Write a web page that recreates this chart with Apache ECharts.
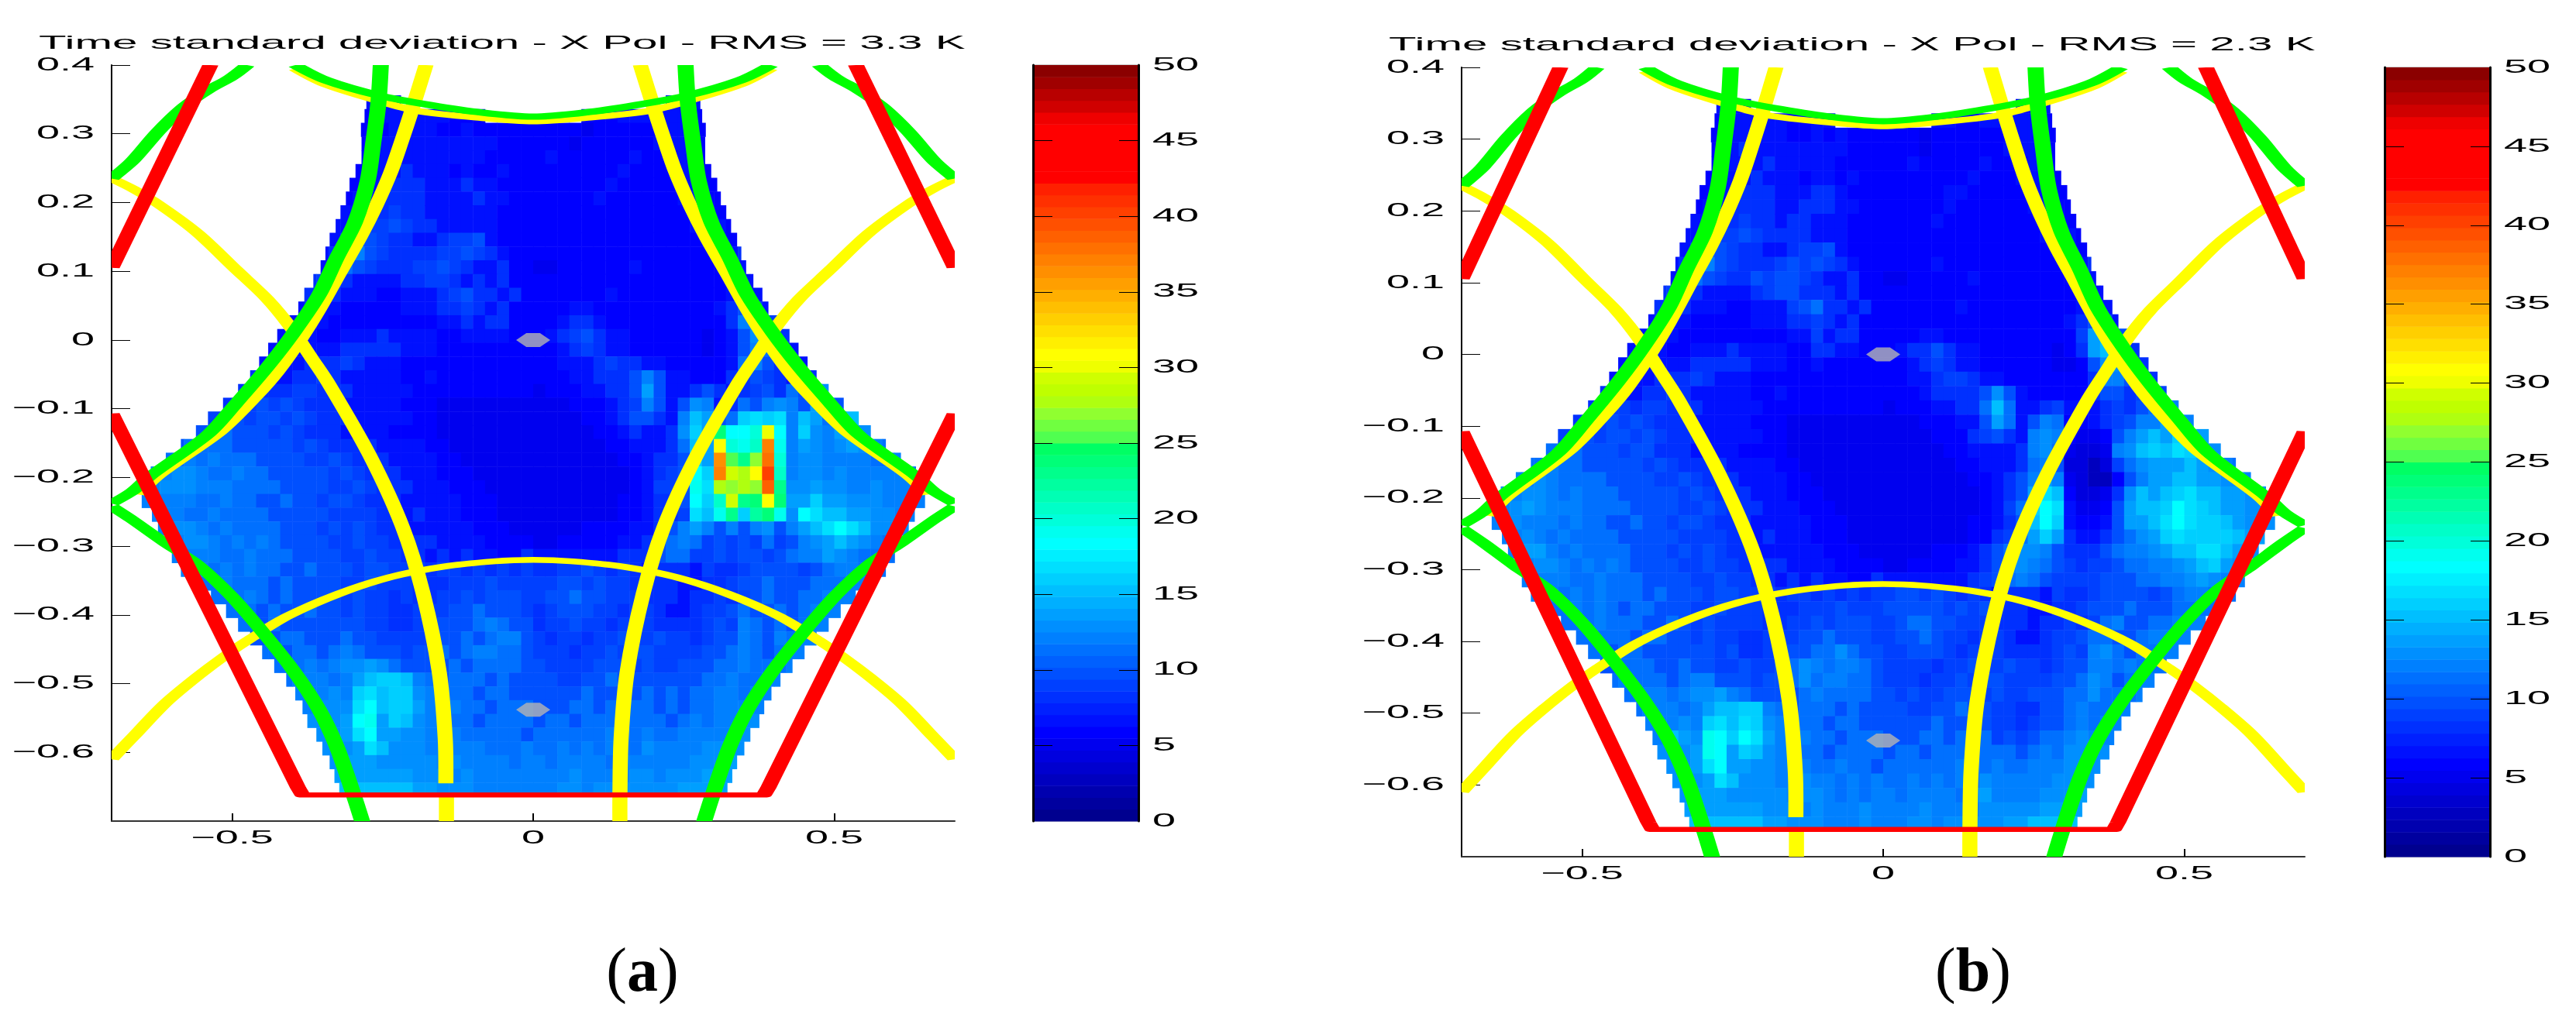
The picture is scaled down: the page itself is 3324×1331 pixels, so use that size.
<!DOCTYPE html>
<html>
<head>
<meta charset="utf-8">
<title>Time standard deviation</title>
<script src="https://cdn.jsdelivr.net/npm/echarts@6/dist/echarts.min.js"></script>
<style>
  html, body { margin: 0; padding: 0; background: #fff; }
  #chart { width: 3324px; height: 1331px; }
</style>
</head>
<body>
<div id="chart"></div>
<script>
var titleA = "Time standard deviation - X Pol - RMS = 3.3 K";
var titleB = "Time standard deviation - X Pol - RMS = 2.3 K";

var xTicks = [-0.5, 0, 0.5];
var xTickLabels = ["\u22120.5", "0", "0.5"];
var yTicks = [0.4, 0.3, 0.2, 0.1, 0, -0.1, -0.2, -0.3, -0.4, -0.5, -0.6];
var yTickLabels = ["0.4", "0.3", "0.2", "0.1", "0", "\u22120.1", "\u22120.2", "\u22120.3", "\u22120.4", "\u22120.5", "\u22120.6"];
var barTicks = [0, 5, 10, 15, 20, 25, 30, 35, 40, 45, 50];

// one character per cell, the value in K: 0-9, a=10 ... z=35, A=36 ... F=41
var levelChars = "0123456789abcdefghijklmnopqrstuvwxyzABCDEF";

// rows from y=0.346 down in steps of 0.02, "left of x=0|right of x=0", cells 0.02 wide
var rowsA = [
  "777...........|...........777",
  "6777777666....|....6667777776",
  "66777766766666|66665666666776",
  "667777777777666|666566666677766",
  "667777777776666|676666667666776",
  "667787776766766|666666676666776",
  "677888777877666|666666766666776",
  "6778888777787766|6666676666667766",
  "7788988777777666|6666666666666776",
  "77899a98877777666|66666666666667776",
  "78aa98877899a7666|66666666666666776",
  "78aca9888899a98766|666666666666666778",
  "79ba988899a9877866|556666667666666677",
  "8998777788998787866|6666666666666666677",
  "8887776677789a88786|6666667666666666787",
  "78776666677788987866|66677666666666678a97",
  "77766666666677878866|66788766666666668cd9",
  "777667778777766777766|6789a877666666567adc8",
  "7777778888877766666666|66789877666666567acb97",
  "77778889877766666666666|66777898877666667bca887",
  "887788987777766766666666|66677888aca7766688a98778",
  "8888899888777776666666666|56667788aea778a8789a8babd",
  "899a9a98887777766655555555|555666789ca7adc78bacdcaeca",
  "99a9aa9a9888777776655555555|55556678aa87cfeabghghcfeb9f",
  "aaabbaaa9a98887777666655555555|555556678778dgeoiikuicgdcefdb",
  "aabbbbaaaaa9a988887777665555555|555555667778bfevkjlBjcedcdedcb",
  "bbbcbcbbbaaaa99a9888777766555555|555555566788ageApnrCkcddccccbbcc",
  "cccddcbbcbbaaaaa9a988877766655555|555555556789aigBtsvElcddcdcccccbc",
  "cdddcccbbbbaaaa99a98887776665555|555555556799ajhsrsrDnddeddccdccc",
  "ccccbbcbbaabaa9aa988877777666555|555555566788aigltnovoeegeedddccc",
  "ccbbcbbbbaaaaa99998878777666555|5555555667889hfjngmojdihffeeddc",
  "cddcbcbbbbaaa9a9a98877777766655|55556666778acecacacdacefhihfddd",
  "cddcbcbcbaaaa99a99888877776666|5566666778abcb9a9a9b9acdefedcb",
  "cccbbcbbbaaaa99a9988787877668|7777777888abb99a9aa9abccedcbb",
  "cbcbcbbaabaaa9aa999899898989|8899a9898788879889aaaa9abccb",
  "bcbbbabaaaa99a999888999a999|99aa9a99888877889aabaaabbbc",
  "bbcbabaaaa9a99898899a9aaa9|9aabaa999888788989abaabbcc",
  "bbabaabaa9a9988999aabaaa9|89aaa99899877899abaababcc",
  "babaaaaaaa998899aaabcbaa|899a99899988889a9cbababc",
  "abbaaabaa99999aababcca|9899899a99a9989aacbacbc",
  "bbabbabcbaaa9aababccbba|999899a9aa9999aabcbabcc",
  "bbbcbcddedbaaaababbbba|a9999aaa9a99aaabbcbbbc",
  "bcccbcefggfcbabbbabaa|aa99aabaaaaaaabbcbbcc",
  "cccdcghfggdcbbbabbaa|aaaabaababababbccbcc",
  "cdddhifggecbcbbabbb|aaabbababbababbcccc",
  "ddeijegfdccbbabbbb|abbabbbabbbabcbccd",
  "ddehieeddcccbbbbba|bbbbbbcbbcbbcccccd",
  "ddehfdddcccccbbbc|bbcbcbcbbdccccddd",
  "deeedddddcdccccbc|cbccccbccccccddde",
  "eeeeeedddcdccccc|cccdccccddcdddee",
  "ffffffeedddccccc|ccddcdddddddeeee"
];

var rowsB = [
  "776...........|...........677",
  "6777776677....|....7766777776",
  "67777766767666|66656666666776",
  "667877777777666|666566666677776",
  "667778777776666|667666667666776",
  "677787776776766|666666676667776",
  "677888777887666|666667766666776",
  "6778888778887766|6666676666667766",
  "7788988788777666|6666766666666776",
  "77899a98888777666|66666666666667776",
  "78aa98877899a7666|66666666666666776",
  "78aca98889a9a98766|666676666666666778",
  "79ba988a9aa9877866|556666676666666677",
  "8998777789aa8887866|6666666666666666677",
  "888777667779ab88786|6666667666666666787",
  "78776666677788987866|66666666666666678a97",
  "77766666666677978866|66677666666666669efa",
  "777667778777766887766|6788a877666666568efc8",
  "7777778888877766766666|66789877666666556adda8",
  "77778889877766666666666|667789987766666668cca88",
  "887788987777766766666666|66678888ada7666668aa89a9",
  "8899899888777776666666666|56667788bfb7789777898abbc",
  "899a9a98887777766655555555|55566677aeb7acb66789accedc",
  "9aa9aa9a9888777776655555555|555566689a87cdc6556acefegfe",
  "aabbbaaa9aa8887777666655555555|555556677778cdb5445cdfgfhgedc",
  "abbcbbaaaaa9a988887777665555555|555555667778bca44349bdeeefedcb",
  "bccdcbbbbaaaa99a9888777766555555|55555556678acec54336aceeffeeddcc",
  "ddcddcbcbbbaaaaa9a988877766655555|55555555678aehf64458dfefghffeeddc",
  "cdedcccbbbbaaaa99a98887776665555|55555555679bgih7556aeffgihgfeedd",
  "cdcccbcbbaabaa9aa988877777666555|55555556678afig7667aeefhihggfedd",
  "cdcbcbbbbaaaaa99998878777666555|55555556689bege8778abdeghggggfe",
  "ceecbcbbbbaaa9a9a98877777766655|555566678abddca888abccdeffhhfed",
  "cddcbcbcbaaaa99a99888877776666|556666778acdcba9899abbccdefged",
  "cccbbcbbbaaaa99a9988787877668|777777789abcba9999aaabbccdedc",
  "cbcbcbbbabaaa9aa999899898989|9aa9a9898788879889aaaa9abccb",
  "bcbcbabbaaa99a999888999a999|aaaaa9a9a88877889aaabaaabbb",
  "bbcbbbaaba9a99998899a9aaa9|9abbaa999888788989bcaabbcc",
  "bbbbabbaa9a9988999aabaaa9|9aaba99899877899abbaabccc",
  "babbaaaaaa9a8899aabbdbaa|99aaa9899988889a9cdbabbc",
  "abbbaabaa99a99abdcbccba|9999899a99a9989aaccbcbb",
  "bcbbbabccaaa9aabdbccbba|999899a9aa9999aabdcabcc",
  "bbccbcddecbaaaabcbbbba|a9a99aaa9a99aaabbdbbbc",
  "bcccbceffggcbabbbabaa|aa99aabaa9988aabcbbcc",
  "cccdcghfhgdcbbbabbaa|aaaabaaba9989aabcbcc",
  "cfedjigihecbcbbabbb|aaabbabab9a9abbcdcc",
  "ddejiegfdccbbabbbb|abbabbbabbbabcbddd",
  "ddehieeddcccbbcbba|bbbbbbcbbcbbcccddd",
  "ddehfdddccdccbcbc|bbcbcbcbdcccccddd",
  "deeedddddcddcbcbc|cbccccbdeccccddde",
  "eeeeeedddcdcccdc|cccdccccdddddeee",
  "ffffffeedddcccdc|ccddcdddddeeffff"
];

// |x| where the field stops, one value per row
var fieldEdge = [0.277, 0.28, 0.286, 0.285, 0.285, 0.295, 0.305, 0.311, 0.32, 0.328, 0.338, 0.345, 0.353, 0.365, 0.38, 0.39, 0.405, 0.425, 0.44, 0.455, 0.47, 0.49, 0.515, 0.54, 0.56, 0.585, 0.61, 0.635, 0.65, 0.65, 0.633, 0.623, 0.61, 0.6, 0.585, 0.56, 0.535, 0.51, 0.49, 0.47, 0.45, 0.43, 0.41, 0.395, 0.383, 0.375, 0.36, 0.35, 0.338, 0.33, 0.322];

var greyX = [0, 0];
var greyY = [0, -0.538];

var yellowArcTop = [[-0.395, 0.395], [-0.344, 0.372], [-0.257, 0.348], [-0.19, 0.333], [-0.086, 0.323], [0, 0.318], [0.086, 0.323], [0.19, 0.333], [0.257, 0.348], [0.344, 0.372], [0.395, 0.395]];
var yellowInnerLeft = [[-0.178, 0.4], [-0.202, 0.333], [-0.219, 0.288], [-0.237, 0.243], [-0.262, 0.193], [-0.288, 0.148], [-0.322, 0.096], [-0.356, 0.043], [-0.386, 0.001], [-0.425, -0.047], [-0.463, -0.085], [-0.52, -0.134], [-0.623, -0.198], [-0.655, -0.225]];
var yellowInnerRight = [[0.178, 0.4], [0.202, 0.333], [0.219, 0.288], [0.237, 0.243], [0.262, 0.193], [0.288, 0.148], [0.322, 0.096], [0.356, 0.043], [0.386, 0.001], [0.425, -0.047], [0.463, -0.085], [0.52, -0.134], [0.623, -0.198], [0.655, -0.225]];
var yellowOuterLeft = [[-0.7, 0.235], [-0.665, 0.22], [-0.623, 0.198], [-0.558, 0.156], [-0.494, 0.103], [-0.442, 0.06], [-0.404, 0.02], [-0.369, -0.025], [-0.34, -0.063], [-0.272, -0.167], [-0.217, -0.272], [-0.183, -0.368], [-0.156, -0.483], [-0.146, -0.58], [-0.145, -0.645]];
var yellowStubLeft = [[-0.144, -0.664], [-0.144, -0.703]];
var yellowOuterRight = [[0.7, 0.235], [0.665, 0.22], [0.623, 0.198], [0.558, 0.156], [0.494, 0.103], [0.442, 0.06], [0.404, 0.02], [0.369, -0.025], [0.34, -0.063], [0.272, -0.167], [0.217, -0.272], [0.183, -0.368], [0.156, -0.483], [0.146, -0.58], [0.144, -0.665], [0.144, -0.703]];
var yellowArcLow = [[-0.7, -0.61], [-0.665, -0.578], [-0.61, -0.528], [-0.558, -0.49], [-0.511, -0.459], [-0.472, -0.436], [-0.408, -0.402], [-0.322, -0.369], [-0.237, -0.345], [-0.151, -0.33], [-0.064, -0.322], [0, -0.32], [0.064, -0.322], [0.151, -0.33], [0.237, -0.345], [0.322, -0.369], [0.408, -0.402], [0.472, -0.436], [0.511, -0.459], [0.558, -0.49], [0.61, -0.528], [0.665, -0.578], [0.7, -0.61]];

var greenArcTop = [[-0.395, 0.4], [-0.344, 0.378], [-0.257, 0.356], [-0.172, 0.342], [-0.086, 0.331], [0, 0.325], [0.086, 0.331], [0.172, 0.342], [0.257, 0.356], [0.344, 0.378], [0.395, 0.4]];
var greenInnerLeft = [[-0.253, 0.4], [-0.257, 0.345], [-0.266, 0.284], [-0.275, 0.231], [-0.296, 0.171], [-0.327, 0.118], [-0.356, 0.065], [-0.399, 0.009], [-0.442, -0.04], [-0.494, -0.093], [-0.541, -0.138], [-0.636, -0.198], [-0.665, -0.22], [-0.7, -0.238]];
var greenInnerRight = [[0.253, 0.4], [0.257, 0.345], [0.266, 0.284], [0.275, 0.231], [0.296, 0.171], [0.327, 0.118], [0.356, 0.065], [0.399, 0.009], [0.442, -0.04], [0.494, -0.093], [0.541, -0.138], [0.636, -0.198], [0.665, -0.22], [0.7, -0.238]];
var greenLowLeft = [[-0.7, -0.242], [-0.665, -0.262], [-0.61, -0.296], [-0.558, -0.326], [-0.502, -0.372], [-0.45, -0.424], [-0.399, -0.48], [-0.356, -0.537], [-0.327, -0.59], [-0.301, -0.654], [-0.283, -0.703]];
var greenLowRight = [[0.7, -0.242], [0.665, -0.262], [0.61, -0.296], [0.558, -0.326], [0.502, -0.372], [0.45, -0.424], [0.399, -0.48], [0.356, -0.537], [0.327, -0.59], [0.301, -0.654], [0.283, -0.703]];
var greenHighLeft = [[-0.7, 0.235], [-0.665, 0.261], [-0.623, 0.303], [-0.579, 0.34], [-0.541, 0.363], [-0.502, 0.382], [-0.475, 0.4]];
var greenHighRight = [[0.7, 0.235], [0.665, 0.261], [0.623, 0.303], [0.579, 0.34], [0.541, 0.363], [0.502, 0.382], [0.475, 0.4]];

var redHighLeft = [[-0.536, 0.4], [-0.7, 0.105]];
var redHighRight = [[0.536, 0.4], [0.7, 0.105]];
var redFrame = [[-0.7, -0.107], [-0.39, -0.652], [-0.383, -0.662], [0.383, -0.662], [0.39, -0.652], [0.7, -0.107]];

var jetColors = [
  "#00008f", "#00009f", "#0000af", "#0000bf", "#0000cf", "#0000df", "#0000ef", "#0000ff",
  "#0010ff", "#0020ff", "#0030ff", "#0040ff", "#0050ff", "#0060ff", "#0070ff", "#0080ff",
  "#008fff", "#009fff", "#00afff", "#00bfff", "#00cfff", "#00dfff", "#00efff", "#00ffff",
  "#00ffef", "#00ffda", "#00ffc8", "#00ffb4", "#00ffa0", "#00ff8c", "#00ff78", "#00ff64",
  "#50ff50", "#70ff40", "#90ff30", "#afff10", "#bfff00", "#cfff00", "#efff00", "#ffff00",
  "#ffef00", "#ffdf00", "#ffcf00", "#ffbf00", "#ffaf00", "#ff9f00", "#ff8f00", "#ff8000",
  "#ff7000", "#ff6000", "#ff5000", "#ff4000", "#ff3000", "#ff2000", "#ff0000", "#ff0000",
  "#ff0000", "#ff0000", "#ff0000", "#ef0000", "#d00000", "#b80000", "#a00000", "#8b0000"
];

var chart = echarts.init(document.getElementById("chart"));

var FONT = "Liberation Sans";
var CELL = 0.02;
var TEXT_STRETCH = 2.25;

// each cell: x, y, value, x of its left side, x of its right side
function rowsToCells(rows) {
  var cells = [];
  rows.forEach(function (row, i) {
    var y = 0.346 - i * CELL;
    var edge = fieldEdge[i];
    var parts = row.split("|");
    var left = parts[0], right = parts[1];
    for (var j = 0; j < left.length; j++) {
      var k = left.length - 1 - j;
      if (left[j] === "." || k * CELL >= edge) continue;
      var lo = j === 0 ? -edge : Math.max(-(k + 1) * CELL, -edge);
      cells.push([-(CELL / 2 + CELL * k), y, levelChars.indexOf(left[j]), lo, -k * CELL]);
    }
    for (var m = 0; m < right.length; m++) {
      if (right[m] === "." || m * CELL >= edge) continue;
      var hi = m === right.length - 1 ? edge : Math.min((m + 1) * CELL, edge);
      cells.push([CELL / 2 + CELL * m, y, levelChars.indexOf(right[m]), m * CELL, hi]);
    }
  });
  return cells;
}

function jetColor(v) {
  return jetColors[Math.min(63, Math.floor(v / 50 * 64))];
}

var grids = [], xAxes = [], yAxes = [], series = [];

function axisLineStyle(color, width) {
  return { show: true, onZero: false, lineStyle: { color: color, width: width } };
}

function curveSeries(xi, yi, points, color, height, stretch, smooth) {
  return {
    type: "custom", xAxisIndex: xi, yAxisIndex: yi, clip: true, silent: true, z: 5,
    data: points,
    renderItem: function (params, api) {
      if (params.dataIndex !== 0) return;
      var pts = points.map(function (p) {
        var c = api.coord(p);
        return [c[0] / stretch, c[1]];
      });
      return {
        type: "polyline", scaleX: stretch, shape: { points: pts, smooth: smooth },
        style: { stroke: color, fill: null, lineWidth: height, lineJoin: "round", lineCap: "butt" }
      };
    }
  };
}

function labelSeries(xi, yi, ticks, labels, toPoint, dx, dy, align) {
  return {
    type: "custom", xAxisIndex: xi, yAxisIndex: yi, silent: true, z: 6,
    data: ticks.map(function (t) { return toPoint(t); }),
    renderItem: function (params, api) {
      var c = api.coord(toPoint(ticks[params.dataIndex]));
      return {
        type: "text", x: c[0] + dx, y: c[1] + dy, scaleX: TEXT_STRETCH,
        style: {
          text: labels[params.dataIndex], fill: "#000", fontSize: 24, fontFamily: FONT,
          align: align, verticalAlign: "middle"
        }
      };
    }
  };
}

function addPanel(p) {
  var base = grids.length;
  var yBase = yAxes.length;

  grids.push({ left: p.left, top: p.top, width: 1088, height: p.height, show: false });
  xAxes.push({
    gridIndex: base, type: "value", min: -0.7, max: 0.7, position: "bottom",
    axisLine: axisLineStyle("#333", 2),
    axisTick: { show: true, inside: true, length: 10, customValues: xTicks, lineStyle: { color: "#000", width: 2 } },
    axisLabel: { show: false }, splitLine: { show: false }
  });
  yAxes.push({
    gridIndex: base, type: "value", min: -0.7, max: 0.4, position: "left",
    axisLine: axisLineStyle("#000", 2),
    axisTick: { show: true, inside: true, length: 24, customValues: yTicks, lineStyle: { color: "#000", width: 1 } },
    axisLabel: { show: false }, splitLine: { show: false }
  });

  grids.push({
    left: p.barLeft, top: p.top, width: 136, height: p.height,
    show: true, borderColor: "#999", borderWidth: 1, backgroundColor: "transparent"
  });
  xAxes.push({
    gridIndex: base + 1, type: "value", min: 0, max: 1,
    axisLine: { show: false }, axisTick: { show: false }, axisLabel: { show: false }, splitLine: { show: false }
  });
  ["left", "right"].forEach(function (pos) {
    yAxes.push({
      gridIndex: base + 1, type: "value", min: 0, max: 50, position: pos,
      axisLine: axisLineStyle("#000", 3),
      axisTick: { show: true, inside: true, length: 25, customValues: barTicks.slice(1, -1), lineStyle: { color: "#000", width: 1 } },
      axisLabel: { show: false }, splitLine: { show: false }, z: 8
    });
  });

  // hex field
  series.push({
    type: "custom", xAxisIndex: base, yAxisIndex: yBase, silent: true, z: 2, progressive: 0,
    data: rowsToCells(p.rows),
    renderItem: function (params, api) {
      var y = api.value(1);
      var lo = api.coord([api.value(3), y + CELL / 2]);
      var hi = api.coord([api.value(4), y - CELL / 2]);
      return {
        type: "rect",
        shape: { x: lo[0], y: lo[1], width: hi[0] - lo[0] + 0.5, height: hi[1] - lo[1] + 0.5 },
        style: { fill: jetColor(api.value(2)) }
      };
    }
  });

  series.push({
    type: "scatter", xAxisIndex: base, yAxisIndex: yBase, silent: true, z: 3,
    data: greyX.map(function (x, i) { return [x, greyY[i]]; }),
    symbol: "path://M30,0 L70,0 L100,50 L70,100 L30,100 L0,50 Z",
    symbolSize: [44, 18], itemStyle: { color: "#b4b4b4" }
  });

  [yellowArcTop, yellowInnerLeft, yellowInnerRight, yellowOuterLeft, yellowStubLeft, yellowOuterRight, yellowArcLow].forEach(function (c) {
    series.push(curveSeries(base, yBase, c, "#ffff00", 7.5, 2.6, 0.3));
  });
  [greenArcTop, greenInnerLeft, greenInnerRight, greenLowLeft, greenLowRight, greenHighLeft, greenHighRight].forEach(function (c) {
    series.push(curveSeries(base, yBase, c, "#00ff00", 8, 2.6, 0.3));
  });
  [redHighLeft, redHighRight, redFrame].forEach(function (c) {
    series.push(curveSeries(base, yBase, c, "#ff0000", 6.5, 3.2, 0));
  });

  // colour bar bands
  series.push({
    type: "custom", xAxisIndex: base + 1, yAxisIndex: yBase + 1, silent: true, z: 2,
    data: jetColors.map(function (c, i) { return [0.5, (i + 0.5) * 50 / jetColors.length]; }),
    renderItem: function (params, api) {
      var i = params.dataIndex;
      var lo = api.coord([0, i * 50 / jetColors.length]);
      var hi = api.coord([1, (i + 1) * 50 / jetColors.length]);
      return {
        type: "rect",
        shape: { x: lo[0], y: hi[1], width: hi[0] - lo[0], height: lo[1] - hi[1] + 0.5 },
        style: { fill: jetColors[i] }
      };
    }
  });

  series.push(labelSeries(base, yBase, yTicks, yTickLabels, function (t) { return [-0.7, t]; }, -22, 0, "right"));
  series.push(labelSeries(base, yBase, xTicks, xTickLabels, function (t) { return [t, -0.7]; }, 0, 22, "center"));
  series.push(labelSeries(base + 1, yBase + 1, barTicks, barTicks.map(String), function (t) { return [1, t]; }, 18, 0, "left"));
}

addPanel({ left: 144, top: 84, height: 976, barLeft: 1333, rows: rowsA });
addPanel({ left: 1886, top: 87, height: 1019, barLeft: 3077, rows: rowsB });

function titleText(x, y, text) {
  return {
    type: "text", x: x, y: y, scaleX: 2.43, silent: true,
    style: { text: text, fill: "#000", fontSize: 24, fontFamily: FONT, align: "left", verticalAlign: "middle" }
  };
}

function captionText(x, letter) {
  return {
    type: "text", x: x, y: 1258, silent: true,
    style: {
      text: "{n|(}{b|" + letter + "}{n|)}", align: "center", verticalAlign: "middle",
      rich: {
        n: { fontSize: 80, fontFamily: "Liberation Serif", fill: "#000" },
        b: { fontSize: 80, fontFamily: "Liberation Serif", fontWeight: "bold", fill: "#000" }
      }
    }
  };
}

chart.setOption({
  animation: false,
  backgroundColor: "#fff",
  grid: grids,
  xAxis: xAxes,
  yAxis: yAxes,
  series: series,
  graphic: [
    titleText(50, 56, titleA),
    titleText(1792, 58, titleB),
    captionText(829, "a"),
    captionText(2546, "b")
  ]
});
</script>
</body>
</html>
